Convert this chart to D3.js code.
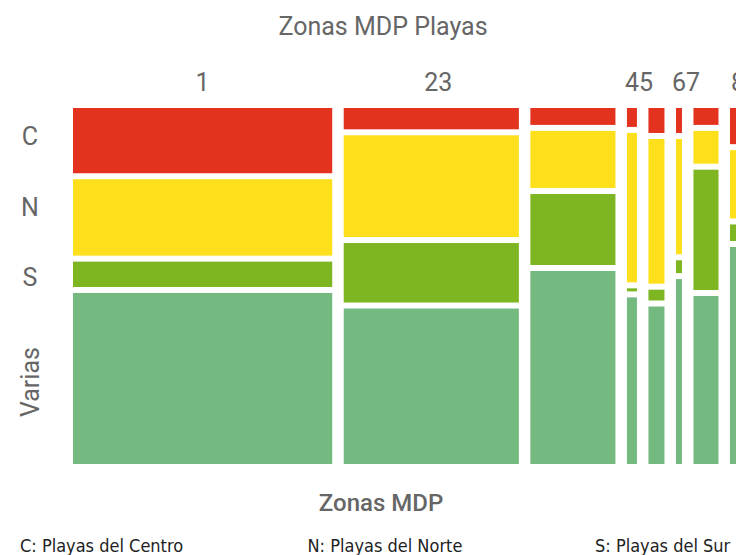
<!DOCTYPE html>
<html>
<head>
<meta charset="utf-8">
<script src="https://cdn.jsdelivr.net/npm/d3@7"></script>
<style>
  html, body { margin: 0; padding: 0; background: #fff; }
  svg { display: block; overflow: hidden; }
</style>
</head>
<body>
<div id="chart"></div>
<script>
// Mosaic: one column per zona, column width = share of beaches, rows = share per type
const zonas = ["1", "2", "3", "4", "5", "6", "7", "8"];
const zonaTotals = [129.5, 87.5, 42.5, 5, 8, 3, 12.5, 8];
const tipos = ["C", "N", "S", "Varias"];
// percentage of each tipo inside each zona (C, N, S, Varias)
const pctC      = [19.3,  6.3,  5.0,  5.6,  7.4,  7.4,  5.0, 10.7];
const pctN      = [22.6, 30.1, 16.9, 44.2, 42.8, 34.1,  9.7, 20.2];
const pctS      = [ 7.5, 17.6, 21.0,  0.9,  3.2,  3.8, 35.6,  4.9];
const pctVarias = [50.6, 46.0, 57.1, 49.3, 46.6, 54.7, 49.7, 64.2];

// top tick labels (the odd zonas print right after the previous one)
const topLabels = ["1", "23", "45", "67", "8"];
const topLabelZona = ["1", "2", "4", "6", "8"];
// left tick labels and where they sit along the axis (0 = top, 1 = bottom)
const leftLabels = ["C", "N", "S", "Varias"];
const leftLabelAt = [0.08, 0.28, 0.475, 0.77];

const legendItems = ["C: Playas del Centro", "N: Playas del Norte", "S: Playas del Sur"];

const width = 736, height = 555;
const margin = {top: 108, left: 73, bottom: 91};
const plotRight = 746;          // the plot runs past the window edge
const colGap = 11.5, rowGap = 6;
const color = d3.scaleOrdinal()
    .domain(tipos)
    .range(["#e3321e", "#fedf1b", "#7db622", "#74ba80"]);

const svg = d3.select("#chart").append("svg")
    .attr("width", width)
    .attr("height", height)
    .style("font-family", "Roboto, 'Noto Sans', sans-serif");

// build the columns
const rows = zonas.map((z, i) => ({
    zona: z, total: zonaTotals[i],
    C: pctC[i], N: pctN[i], S: pctS[i], Varias: pctVarias[i]
}));
const grandTotal = d3.sum(zonaTotals);
const usable = plotRight - margin.left - colGap * (zonas.length - 1);
const x = d3.scaleLinear().domain([0, grandTotal]).range([0, usable]);

let acc = 0;
rows.forEach((r, i) => {
    r.x0 = margin.left + x(acc) + i * colGap;
    r.x1 = r.x0 + x(r.total);
    acc += r.total;
});

const plotBottom = height - margin.bottom;
const y = d3.scaleLinear()
    .domain([0, 100])
    .range([0, plotBottom - margin.top - rowGap * (tipos.length - 1)]);

const stacked = d3.stack().keys(tipos)(rows);

svg.append("g")
    .selectAll("g")
    .data(stacked)
    .enter().append("g")
    .attr("fill", d => color(d.key))
    .selectAll("rect")
    .data(d => d.map(s => ({s, k: d.index})))
    .enter()
    .append("rect")
    .attr("x", d => d.s.data.x0)
    .attr("width", d => d.s.data.x1 - d.s.data.x0)
    .attr("y", d => margin.top + y(d.s[0]) + d.k * rowGap)
    .attr("height", d => y(d.s[1]) - y(d.s[0]));

// titles
svg.append("text")
    .attr("x", 383).attr("y", 35)
    .attr("text-anchor", "middle")
    .attr("font-size", 25)
    .attr("fill", "#666")
    .text("Zonas MDP Playas");

svg.append("text")
    .attr("x", 381).attr("y", 511)
    .attr("text-anchor", "middle")
    .attr("font-size", 24)
    .attr("font-weight", 500)
    .attr("fill", "#666")
    .text("Zonas MDP");

// top tick labels
const byZona = new Map(rows.map(r => [r.zona, r]));
svg.append("g")
    .selectAll("text")
    .data(topLabels)
    .enter().append("text")
    .attr("x", (d, i) => { const r = byZona.get(topLabelZona[i]); return (r.x0 + r.x1) / 2; })
    .attr("dx", "-0.28em")
    .attr("y", 91)
    .attr("font-size", 25)
    .attr("fill", "#666")
    .text(d => d);

// left tick labels
const yl = d3.scaleLinear().domain([0, 1]).range([margin.top, plotBottom]);
svg.append("g")
    .selectAll("text")
    .data(leftLabels)
    .enter().append("text")
    .attr("transform", (d, i) => `translate(30,${yl(leftLabelAt[i])}) rotate(${d.length > 1 ? -90 : 0})`)
    .attr("text-anchor", "middle")
    .attr("dominant-baseline", "central")
    .attr("font-size", 25)
    .attr("fill", "#666")
    .text(d => d);

// legend line under the chart
const legendX = d3.scalePoint().domain(legendItems).range([20, 595]);
svg.append("g")
    .selectAll("text")
    .data(legendItems)
    .enter().append("text")
    .attr("x", d => legendX(d))
    .attr("y", 552)
    .attr("font-size", 18)
    .attr("fill", "#222")
    .style("font-family", "'Liberation Sans Narrow', 'DejaVu Sans Condensed', sans-serif")
    .text(d => d);
</script>
</body>
</html>
